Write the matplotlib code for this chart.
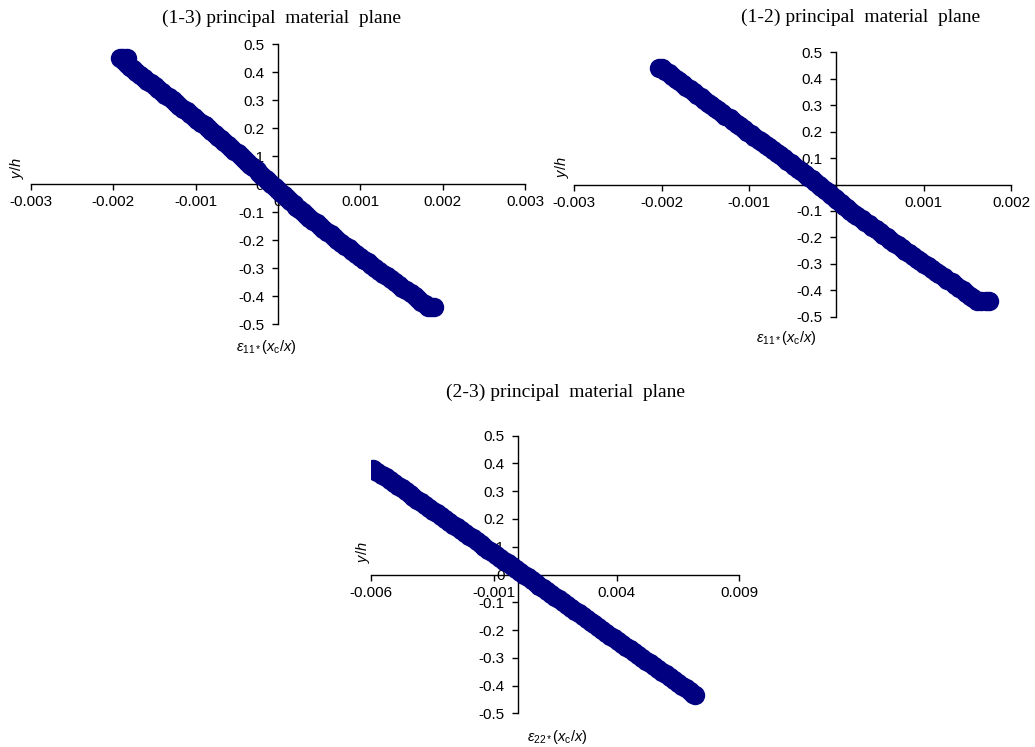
import numpy as np
import matplotlib
matplotlib.use("Agg")
import matplotlib.pyplot as plt
from matplotlib.ticker import FuncFormatter

plt.rcParams['font.family'] = 'Liberation Sans'
plt.rcParams['mathtext.fontset'] = 'custom'
plt.rcParams['mathtext.rm'] = 'Liberation Sans'
plt.rcParams['mathtext.it'] = 'Liberation Sans:italic'
plt.rcParams['mathtext.bf'] = 'Liberation Sans:bold'


# Normalised strain vs. depth, (1-3) plane
y13 = [0.45, 0.45, 0.45, 0.44, 0.43, 0.42, 0.41, 0.40, 0.39, 0.38, 0.37, 0.36, 0.35, 0.34,
       0.33, 0.32, 0.31, 0.30, 0.29, 0.28, 0.27, 0.26, 0.25, 0.24, 0.23, 0.22, 0.21, 0.20,
       0.19, 0.18, 0.17, 0.16, 0.15, 0.14, 0.13, 0.12, 0.11, 0.10, 0.09, 0.08, 0.07, 0.06,
       0.05, 0.04, 0.03, 0.02, 0.01, 0.00, -0.01, -0.02, -0.03, -0.04, -0.05, -0.06, -0.07,
       -0.08, -0.09, -0.10, -0.11, -0.12, -0.13, -0.14, -0.15, -0.16, -0.17, -0.18, -0.19,
       -0.20, -0.21, -0.22, -0.23, -0.24, -0.25, -0.26, -0.27, -0.28, -0.29, -0.30, -0.31,
       -0.32, -0.33, -0.34, -0.35, -0.36, -0.37, -0.38, -0.39, -0.40, -0.41, -0.42, -0.43,
       -0.44, -0.44, -0.44]
x13 = [-0.00192, -0.00188, -0.00184, -0.00187, -0.00183, -0.00180, -0.00176, -0.00172,
       -0.00168, -0.00163, -0.00159, -0.00154, -0.00150, -0.00146, -0.00141, -0.00137,
       -0.00132, -0.00128, -0.00124, -0.00120, -0.00115, -0.00111, -0.00107, -0.00102,
       -0.00098, -0.00094, -0.00089, -0.00085, -0.00081, -0.00077, -0.00073, -0.00069,
       -0.00065, -0.00061, -0.00057, -0.00053, -0.00049, -0.00045, -0.00041, -0.00038,
       -0.00034, -0.00030, -0.00026, -0.00023, -0.00019, -0.00015, -0.00012, -0.00008,
       -0.00004, 0.00000, 0.00004, 0.00007, 0.00011, 0.00015, 0.00019, 0.00022, 0.00026,
       0.00030, 0.00034, 0.00038, 0.00043, 0.00047, 0.00051, 0.00055, 0.00060, 0.00064,
       0.00068, 0.00072, 0.00077, 0.00081, 0.00086, 0.00090, 0.00095, 0.00099, 0.00104,
       0.00109, 0.00113, 0.00118, 0.00123, 0.00128, 0.00132, 0.00137, 0.00142, 0.00147,
       0.00151, 0.00156, 0.00161, 0.00166, 0.00170, 0.00174, 0.00178, 0.00182, 0.00186,
       0.00190]

# (1-2) plane
y12 = [0.44, 0.44, 0.43, 0.42, 0.41, 0.40, 0.39, 0.38, 0.37, 0.36, 0.35, 0.34, 0.33, 0.32,
       0.31, 0.30, 0.29, 0.28, 0.27, 0.26, 0.25, 0.24, 0.23, 0.22, 0.21, 0.20, 0.19, 0.18,
       0.17, 0.16, 0.15, 0.14, 0.13, 0.12, 0.11, 0.10, 0.09, 0.08, 0.07, 0.06, 0.05, 0.04,
       0.03, 0.02, 0.01, 0.00, -0.01, -0.02, -0.03, -0.04, -0.05, -0.06, -0.07, -0.08,
       -0.09, -0.10, -0.11, -0.12, -0.13, -0.14, -0.15, -0.16, -0.17, -0.18, -0.19, -0.20,
       -0.21, -0.22, -0.23, -0.24, -0.25, -0.26, -0.27, -0.28, -0.29, -0.30, -0.31, -0.32,
       -0.33, -0.34, -0.35, -0.36, -0.37, -0.38, -0.39, -0.40, -0.41, -0.42, -0.43, -0.44,
       -0.44, -0.44, -0.44]
x12 = [-0.00203, -0.00200, -0.00196, -0.00192, -0.00188, -0.00184, -0.00180, -0.00176,
       -0.00172, -0.00168, -0.00163, -0.00159, -0.00155, -0.00151, -0.00147, -0.00143,
       -0.00139, -0.00135, -0.00131, -0.00127, -0.00122, -0.00118, -0.00114, -0.00110,
       -0.00106, -0.00102, -0.00098, -0.00094, -0.00089, -0.00085, -0.00081, -0.00077,
       -0.00072, -0.00068, -0.00064, -0.00060, -0.00056, -0.00052, -0.00048, -0.00044,
       -0.00040, -0.00036, -0.00032, -0.00028, -0.00024, -0.00020, -0.00017, -0.00013,
       -0.00010, -0.00006, -0.00002, 0.00001, 0.00005, 0.00009, 0.00012, 0.00016, 0.00020,
       0.00024, 0.00029, 0.00033, 0.00037, 0.00041, 0.00046, 0.00050, 0.00054, 0.00058,
       0.00062, 0.00066, 0.00071, 0.00075, 0.00079, 0.00083, 0.00088, 0.00092, 0.00096,
       0.00100, 0.00105, 0.00109, 0.00114, 0.00118, 0.00123, 0.00127, 0.00132, 0.00136,
       0.00141, 0.00145, 0.00149, 0.00153, 0.00157, 0.00161, 0.00166, 0.00171, 0.00175]

# (2-3) plane
y23 = [0.38, 0.37, 0.36, 0.35, 0.34, 0.33, 0.32, 0.31, 0.30, 0.29, 0.28, 0.27, 0.26, 0.25,
       0.24, 0.23, 0.22, 0.21, 0.20, 0.19, 0.18, 0.17, 0.16, 0.15, 0.14, 0.13, 0.12, 0.11,
       0.10, 0.09, 0.08, 0.07, 0.06, 0.05, 0.04, 0.03, 0.02, 0.01, 0.00, -0.01, -0.02,
       -0.03, -0.04, -0.05, -0.06, -0.07, -0.08, -0.09, -0.10, -0.11, -0.12, -0.13, -0.14,
       -0.15, -0.16, -0.17, -0.18, -0.19, -0.20, -0.21, -0.22, -0.23, -0.24, -0.25, -0.26,
       -0.27, -0.28, -0.29, -0.30, -0.31, -0.32, -0.33, -0.34, -0.35, -0.36, -0.37, -0.38,
       -0.39, -0.40, -0.41, -0.42, -0.43, -0.435]
x23 = [-0.00592, -0.00575, -0.00556, -0.00540, -0.00524, -0.00507, -0.00491, -0.00475,
       -0.00459, -0.00443, -0.00427, -0.00411, -0.00395, -0.00379, -0.00363, -0.00347,
       -0.00331, -0.00314, -0.00298, -0.00282, -0.00266, -0.00250, -0.00234, -0.00218,
       -0.00202, -0.00186, -0.00170, -0.00154, -0.00138, -0.00122, -0.00106, -0.00090,
       -0.00074, -0.00058, -0.00042, -0.00026, -0.00010, 0.00006, 0.00022, 0.00038,
       0.00054, 0.00070, 0.00086, 0.00102, 0.00118, 0.00134, 0.00150, 0.00166, 0.00182,
       0.00198, 0.00214, 0.00230, 0.00246, 0.00262, 0.00278, 0.00294, 0.00310, 0.00326,
       0.00342, 0.00358, 0.00374, 0.00391, 0.00407, 0.00423, 0.00439, 0.00456, 0.00472,
       0.00488, 0.00505, 0.00521, 0.00537, 0.00553, 0.00569, 0.00585, 0.00602, 0.00618,
       0.00634, 0.00650, 0.00666, 0.00682, 0.00698, 0.00712, 0.00718]

xticks13 = [-0.003, -0.002, -0.001, 0, 0.001, 0.002, 0.003]
xticks12 = [-0.003, -0.002, -0.001, 0, 0.001, 0.002]
xticks23 = [-0.006, -0.001, 0.004, 0.009]
yticks = [-0.5, -0.4, -0.3, -0.2, -0.1, 0, 0.1, 0.2, 0.3, 0.4, 0.5]

titles = ["(1-3) principal  material  plane",
          "(1-2) principal  material  plane",
          "(2-3) principal  material  plane"]
xlabels = [r"$ε_{11*}(x_{\rm c}/x)$", r"$ε_{11*}(x_{\rm c}/x)$", r"$ε_{22*}(x_{\rm c}/x)$"]

W, H = 1035, 747
fig = plt.figure(figsize=(W / 100, H / 100), dpi=100)


def px_rect(x0, x1, ytop, ybot):
    return [x0 / W, 1 - ybot / H, (x1 - x0) / W, (ybot - ytop) / H]


def fmt(v, pos):
    return "{:g}".format(round(v, 6))


def panel(rect, xs, ys, xticks, title, title_xy, xlabel, xlabel_xy, ylabel_xy):
    ax = fig.add_axes(rect)
    # points under the tick labels, over the axis lines
    ax.plot(xs, ys, 'o', color='#000080', markersize=14, markeredgewidth=0, zorder=2)
    ax.set_xlim(xticks[0], xticks[-1])
    ax.set_ylim(-0.5, 0.5)
    ax.set_xticks(xticks)
    ax.set_yticks(yticks)
    ax.xaxis.set_major_formatter(FuncFormatter(fmt))
    ax.yaxis.set_major_formatter(FuncFormatter(fmt))
    for s in ['top', 'right']:
        ax.spines[s].set_visible(False)
    for s in ['left', 'bottom']:
        ax.spines[s].set_position(('data', 0))
        ax.spines[s].set_linewidth(1.0)
        ax.spines[s].set_color('black')
        ax.spines[s].set_zorder(1.5)
    ax.tick_params(axis='x', direction='out', length=4, width=1.0, pad=4, labelsize=11)
    ax.tick_params(axis='y', direction='out', length=4, width=1.0, pad=6, labelsize=11)
    ax.patch.set_visible(False)
    fig.text(title_xy[0] / W, 1 - title_xy[1] / H, title, family='Liberation Serif',
             fontsize=14, ha='center', va='center')
    fig.text(xlabel_xy[0] / W, 1 - xlabel_xy[1] / H, xlabel, fontsize=10.5,
             ha='center', va='center')
    fig.text(ylabel_xy[0] / W, 1 - ylabel_xy[1] / H, r"$y/h$", fontsize=10.5,
             ha='center', va='center', rotation=90)
    return ax


panel(px_rect(31, 525, 44.3, 324), x13, y13, xticks13, titles[0], (281, 18),
      xlabels[0], (266, 347), (17.5, 168))
panel(px_rect(574.3, 1011, 52.3, 316.7), x12, y12, xticks12, titles[1], (861, 17),
      xlabels[1], (786, 338), (562, 167))
panel(px_rect(371, 739.3, 435.7, 713.3), x23, y23, xticks23, titles[2], (565, 392),
      xlabels[2], (557, 737), (362.5, 552))

fig.savefig("out.png", dpi=100)
